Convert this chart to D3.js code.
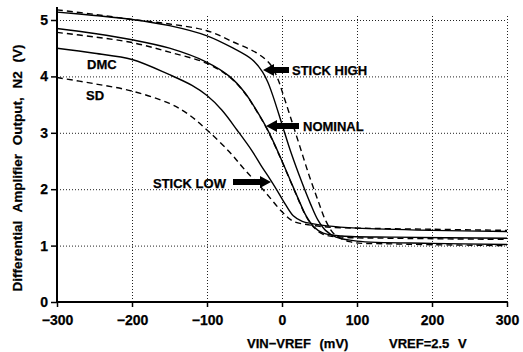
<!DOCTYPE html>
<html>
<head>
<meta charset="utf-8">
<script src="https://cdn.jsdelivr.net/npm/d3@7"></script>
<style>
  body { margin: 0; background: #fff; }
  svg { display: block; }
  text { font-family: "Liberation Sans", Arial, sans-serif; font-weight: bold; fill: #000; stroke: #000; stroke-width: 0.25px; }
</style>
</head>
<body>
<div id="chart"></div>
<script>
// values: [VIN-VREF (mV), output (V)]
const stickHighSolid = [[-300,5.14],[-250,5.08],[-200,5.01],[-150,4.9],[-100,4.72],[-65,4.5],[-40,4.3],[-26,4.08],[-19,3.9],[-12,3.65],[0,3.15],[12,2.65],[26,2.14],[38,1.74],[48,1.45],[58,1.27],[72,1.15],[100,1.08],[200,1.04],[300,1.02]];
const stickHighDash  = [[-300,5.18],[-250,5.1],[-200,5.01],[-150,4.93],[-100,4.81],[-65,4.61],[-33,4.41],[-16,4.22],[-6,3.97],[1,3.7],[12,3.25],[24,2.75],[36,2.25],[48,1.8],[58,1.45],[70,1.2],[90,1.07],[150,1.03],[300,1.0]];
const nominalSolid   = [[-300,4.85],[-250,4.76],[-200,4.65],[-150,4.5],[-100,4.25],[-70,4.0],[-50,3.72],[-35,3.42],[-21,3.1],[-10,2.8],[0,2.5],[11,2.16],[22,1.82],[32,1.53],[42,1.34],[55,1.22],[80,1.17],[150,1.15],[300,1.13]];
const nominalDash    = [[-300,4.78],[-250,4.7],[-200,4.6],[-150,4.43],[-100,4.23],[-70,3.99],[-50,3.71],[-35,3.41],[-21,3.09],[-10,2.79],[0,2.49],[11,2.15],[22,1.81],[32,1.52],[42,1.33],[55,1.2],[80,1.15],[150,1.13],[300,1.11]];
const dmcSolid       = [[-300,4.5],[-250,4.41],[-200,4.3],[-150,4.03],[-120,3.84],[-100,3.66],[-80,3.4],[-60,3.05],[-40,2.68],[-27,2.4],[-16,2.18],[-7,1.99],[5,1.72],[15,1.53],[27,1.43],[40,1.39],[60,1.35],[100,1.31],[200,1.27],[300,1.25]];
const sdDash         = [[-300,3.98],[-250,3.87],[-200,3.74],[-150,3.52],[-125,3.33],[-100,3.05],[-70,2.66],[-50,2.35],[-25,1.99],[0,1.6],[15,1.43],[35,1.37],[60,1.33],[100,1.31],[200,1.29],[300,1.27]];

const xTicks = [-300, -200, -100, 0, 100, 200, 300];
const yTicks = [0, 1, 2, 3, 4, 5];

const curves = [
  { data: stickHighSolid, dashed: false },
  { data: stickHighDash,  dashed: true },
  { data: nominalSolid,   dashed: false },
  { data: nominalDash,    dashed: true },
  { data: dmcSolid,       dashed: false },
  { data: sdDash,         dashed: true }
];

const W = 523, H = 352;
const svg = d3.select("#chart").append("svg").attr("width", W).attr("height", H);

const x = d3.scaleLinear().domain([-300, 300]).range([57, 507]);
const y = d3.scaleLinear().domain([0, 5]).range([302, 20]);

// dotted grid
const grid = svg.append("g").attr("stroke", "#222").attr("stroke-width", 1).attr("stroke-dasharray", "1,2");
grid.selectAll(".gx").data(xTicks.filter(d => d !== -300)).enter().append("line")
  .attr("x1", d => x(d) + 0.5).attr("x2", d => x(d) + 0.5)
  .attr("y1", y(0)).attr("y2", 14);
grid.selectAll(".gy").data(yTicks.filter(d => d !== 0)).enter().append("line")
  .attr("x1", x(-300)).attr("x2", x(300))
  .attr("y1", d => y(d) + 0.5).attr("y2", d => y(d) + 0.5);

// axes
const xAxis = d3.axisBottom(x).tickValues(xTicks).tickSize(5).tickFormat(d => d < 0 ? "\u2212" + Math.abs(d) : d);
const yAxis = d3.axisLeft(y).tickValues(yTicks).tickSize(6).tickFormat(d3.format("d"));

const gx = svg.append("g").attr("transform", `translate(0,${y(0)})`).call(xAxis);
gx.select(".domain").attr("d", `M${x(-300)},0H${x(300)}`).attr("stroke-width", 2);
gx.selectAll(".tick line").attr("stroke-width", 1.5);
gx.selectAll("text").attr("font-size", 14).attr("dy", "1.1em").style("font-family", "Liberation Sans").style("font-weight", "bold");

const gy = svg.append("g").attr("transform", `translate(${x(-300)},0)`).call(yAxis);
gy.select(".domain").attr("d", `M0,${y(0)}V7`).attr("stroke-width", 2);
gy.selectAll(".tick line").attr("stroke-width", 1.5);
gy.selectAll("text").attr("font-size", 14).attr("x", -9).style("font-family", "Liberation Sans").style("font-weight", "bold");

// curves
const line = d3.line().x(d => x(d[0])).y(d => y(d[1])).curve(d3.curveCatmullRom.alpha(0.5));
svg.append("g").selectAll("path").data(curves).enter().append("path")
  .attr("d", d => line(d.data))
  .attr("fill", "none")
  .attr("stroke", "#000")
  .attr("stroke-width", 1.4)
  .attr("stroke-dasharray", d => d.dashed ? "6,4" : null);

// labels
svg.append("text").attr("x", 87).attr("y", 69).attr("font-size", 13).text("DMC");
svg.append("text").attr("x", 86).attr("y", 100).attr("font-size", 13).text("SD");

function arrow(x0, x1, yy) {
  // thick arrow from x0 (tail) to x1 (tip)
  const dir = x1 > x0 ? 1 : -1;
  const head = 11 * dir;
  const p = [
    [x0, yy - 3], [x1 - head, yy - 3], [x1 - head, yy - 6], [x1, yy],
    [x1 - head, yy + 6], [x1 - head, yy + 3], [x0, yy + 3]
  ];
  svg.append("path").attr("d", d3.line()(p) + "Z").attr("fill", "#000");
}

svg.append("text").attr("x", 292).attr("y", 75).attr("font-size", 13).text("STICK  HIGH");
arrow(289, 263, 70);
svg.append("text").attr("x", 303).attr("y", 131).attr("font-size", 13).text("NOMINAL");
arrow(299, 266, 126);
svg.append("text").attr("x", 153).attr("y", 188).attr("font-size", 13).text("STICK  LOW");
arrow(233, 271, 182);

// axis titles
svg.append("text")
  .attr("transform", `translate(22,${(y(0) + 28) / 2 + 3}) rotate(-90)`)
  .attr("text-anchor", "middle").attr("font-size", 13.5)
  .style("word-spacing", "5px")
  .text("Differential Amplifier Output, N2 (V)");
svg.append("text").attr("x", 247).attr("y", 348).attr("font-size", 13)
  .style("word-spacing", "5px").text("VIN\u2212VREF (mV)");
svg.append("text").attr("x", 389).attr("y", 348).attr("font-size", 13)
  .style("word-spacing", "5px").text("VREF=2.5 V");
</script>
</body>
</html>
